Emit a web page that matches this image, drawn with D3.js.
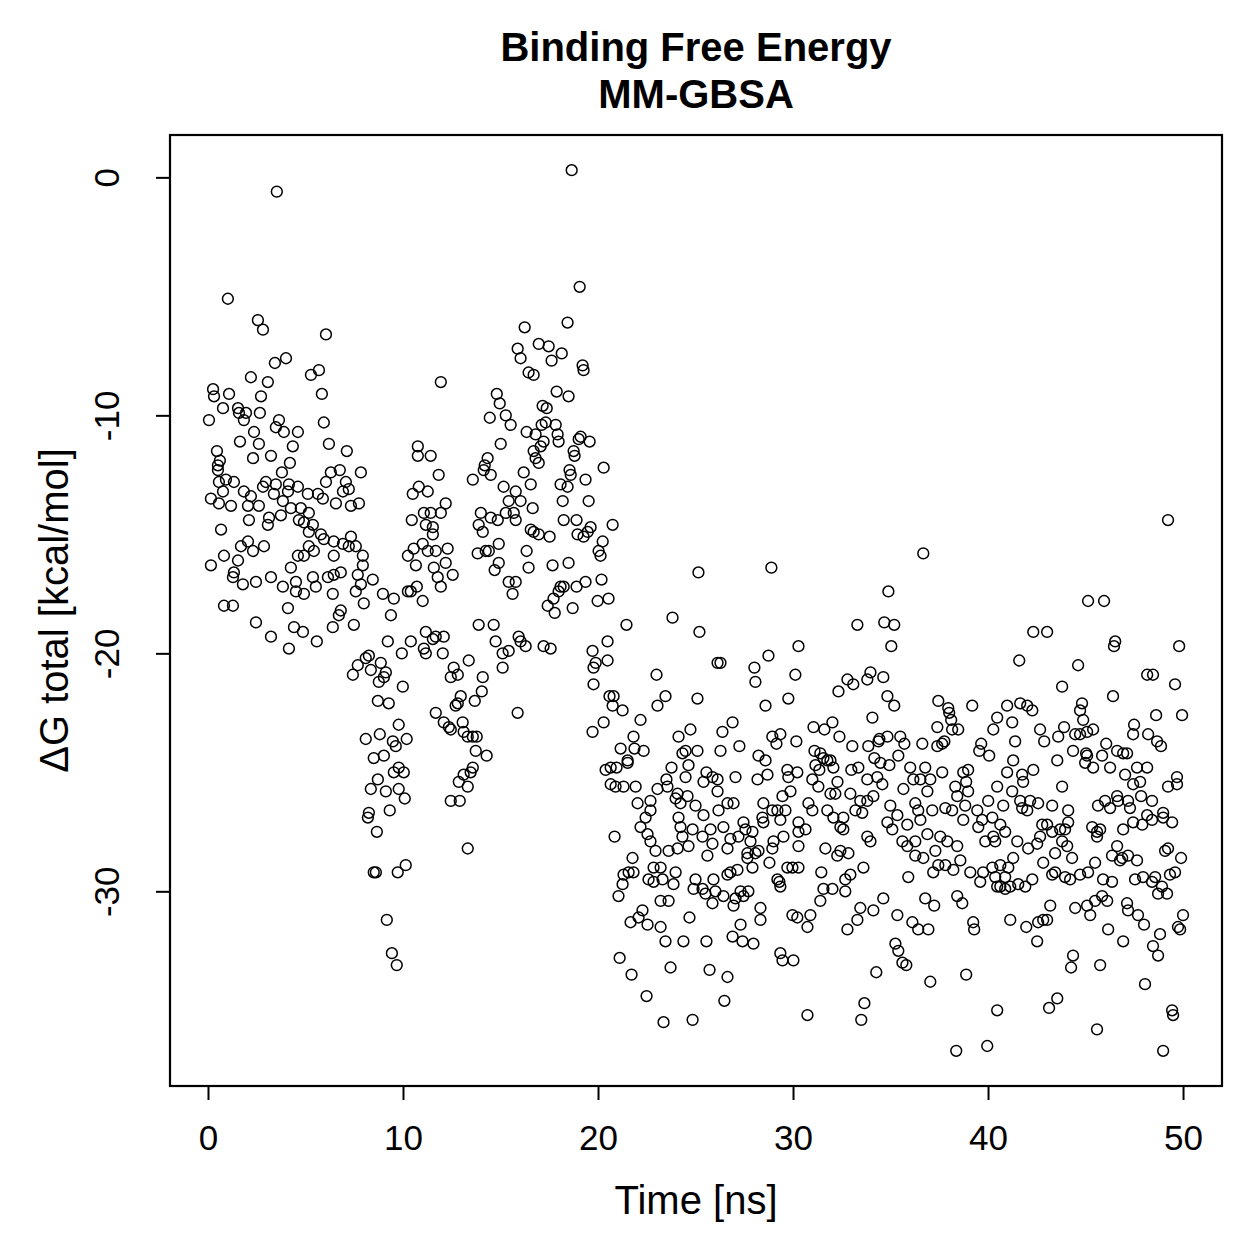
<!DOCTYPE html>
<html>
<head>
<meta charset="utf-8">
<script src="https://cdn.jsdelivr.net/npm/d3@7"></script>
<style>
  body { margin:0; background:#fff; }
  svg { display:block; font-family:"Liberation Sans", Arial, Helvetica, sans-serif; }
</style>
</head>
<body>
<svg width="1259" height="1259"></svg>
<script>
// frames: [time ns, dG kcal/mol]
// first part of the run (about 0-21 ns)
const early = [
[3.53,-0.6],[1.02,-5.1],[2.56,-6.0],[2.82,-6.4],[6.05,-6.6],[3.43,-7.8],[4.00,-7.6],[2.20,-8.4],[3.07,-8.6],[5.28,-8.3],[5.69,-8.1],[5.84,-9.1],[0.26,-8.9],[0.31,-9.2],[1.08,-9.1],[0.77,-9.7],[1.54,-9.7],[1.59,-9.9],[1.95,-9.9],[1.84,-10.2],[2.72,-9.2],[2.66,-9.9],[0.05,-10.2],[3.64,-10.2],[3.48,-10.5],[3.89,-10.7],[4.61,-10.7],[5.94,-10.3],[2.36,-10.7],[1.64,-11.1],[2.61,-11.2],[6.20,-11.2],[7.12,-11.5],[4.35,-11.3],[3.23,-11.7],[2.31,-11.8],[4.20,-12.0],[0.46,-11.5],[0.61,-11.9],[0.51,-12.1],[3.79,-12.4],[6.30,-12.4],[6.76,-12.3],[7.84,-12.4],
[0.51,-12.3],[0.56,-12.8],[0.92,-12.7],[1.33,-12.8],[0.77,-13.2],[0.15,-13.5],[0.56,-13.7],[1.18,-13.8],[1.84,-13.2],[2.20,-13.4],[2.05,-13.8],[2.61,-13.8],[2.97,-12.8],[2.82,-13.0],[3.48,-12.9],[4.10,-13.2],[4.15,-12.9],[4.61,-13.0],[3.84,-13.6],[3.38,-13.3],[5.12,-13.3],[5.64,-13.3],[6.05,-12.8],[5.89,-13.5],[4.25,-13.9],[4.76,-13.9],[5.17,-14.1],[4.66,-14.4],[4.92,-14.5],[5.38,-14.6],[5.17,-14.9],[5.79,-15.0],[5.94,-15.2],[3.13,-14.3],[3.07,-14.6],[2.10,-14.4],[3.74,-14.2],[0.67,-14.8],[1.69,-15.5],[2.05,-15.3],[2.31,-15.7],[2.87,-15.5],[5.17,-15.5],[5.43,-15.7],[4.61,-15.9],[4.92,-15.9],[0.82,-15.9],[1.54,-16.1],[0.15,-16.3],[4.25,-16.4],[1.33,-16.6],[1.28,-16.8],[1.79,-17.1],[2.46,-17.0],[3.23,-16.8],[3.84,-17.2],[4.51,-17.0],[4.51,-17.4],[4.92,-17.5],[5.38,-16.8],[5.53,-17.2],[6.15,-16.8],[4.10,-18.1],[0.82,-18.0],[1.28,-18.0],[2.46,-18.7],[3.23,-19.3],[4.15,-19.8],[4.41,-18.9],[4.87,-19.1],[5.58,-19.5],
[7.07,-12.8],[7.22,-13.1],[6.92,-13.2],[6.56,-13.7],[7.33,-13.8],[7.74,-13.7],[10.76,-11.3],[10.76,-11.7],[10.81,-13.0],[10.50,-13.3],[10.45,-14.4],[6.45,-15.3],[6.92,-15.4],[7.33,-15.1],[7.22,-15.5],[7.58,-15.5],[6.45,-15.9],[6.81,-16.6],[7.94,-15.9],[7.94,-16.3],[7.68,-16.7],[6.45,-16.7],[8.45,-16.9],[7.84,-17.1],[7.58,-17.4],[6.40,-17.5],[7.99,-17.9],[8.97,-17.5],[9.53,-17.7],[10.25,-17.4],[10.40,-17.4],[10.71,-17.2],[10.25,-15.9],[10.55,-15.6],[10.66,-16.3],[9.38,-18.4],[6.81,-18.2],[6.71,-18.4],[6.40,-18.9],[7.48,-18.8],
[9.22,-19.5],[10.40,-19.5],[9.94,-20.0],[8.25,-20.1],[8.09,-20.2],[7.68,-20.5],[8.86,-20.4],[7.43,-20.9],[8.35,-20.7],[9.12,-20.8],[9.02,-21.0],[8.76,-21.2],[9.99,-21.4],[8.71,-22.0],[9.27,-22.1],[9.78,-23.0],[8.81,-23.4],[8.09,-23.6],[9.48,-23.7],[9.63,-23.9],[10.19,-23.6],[8.50,-24.4],[9.02,-24.3],[9.78,-24.8],[9.53,-25.0],[10.04,-25.0],[8.71,-25.3],[8.35,-25.7],[9.12,-25.8],[9.78,-25.7],[10.09,-26.1],[9.32,-26.6],[8.25,-26.7],[8.20,-26.9],[8.66,-27.5],[8.50,-29.2],[8.61,-29.2],[9.73,-29.2],[10.14,-28.9],[9.17,-31.2],[9.43,-32.6],[9.68,-33.1],
[14.04,-21.6],[13.68,-22.0],[12.96,-21.8],[12.81,-22.1],[12.70,-22.2],[11.68,-22.5],[12.09,-22.9],[12.35,-23.1],[13.06,-22.9],[13.11,-23.3],[13.32,-23.5],[13.58,-23.5],[13.78,-23.5],[13.73,-24.1],[14.29,-24.3],[12.45,-23.2],[12.86,-25.4],[13.11,-25.1],[13.47,-25.0],[13.58,-24.8],[13.32,-25.6],[12.91,-26.2],[12.45,-26.2],[13.32,-28.2],
[19.06,-4.6],[18.44,-6.1],[16.24,-6.3],[15.88,-7.2],[16.03,-7.6],[16.96,-7.0],[17.47,-7.1],[18.14,-7.4],[17.62,-7.7],[19.21,-7.9],[19.26,-8.1],[16.44,-8.2],[16.70,-8.3],[11.94,-8.6],[14.81,-9.1],[14.96,-9.5],[14.45,-10.1],[15.27,-10.0],[15.52,-10.4],[17.88,-9.0],[18.49,-9.2],[17.16,-9.6],[17.37,-9.7],[17.32,-10.3],[17.11,-10.4],[17.83,-10.4],[16.34,-10.7],[16.80,-10.8],[17.93,-10.8],[17.98,-11.1],[19.11,-10.9],[19.01,-11.0],[19.57,-11.1],[15.01,-11.2],[17.21,-11.1],[17.06,-11.3],[16.70,-11.5],[18.75,-11.5],[18.80,-11.7],[16.80,-11.8],[16.96,-12.0],[14.34,-11.8],[14.19,-12.1],[11.42,-11.7],[11.83,-12.5],[13.58,-12.7],[14.50,-12.5],[16.19,-12.4],[18.54,-12.3],[20.29,-12.2],[19.36,-12.7],[18.65,0.3],
[14.14,-12.3],[16.55,-12.9],[15.16,-13.0],[15.78,-13.2],[15.42,-13.6],[16.03,-13.6],[16.65,-13.9],[13.99,-14.1],[14.50,-14.3],[14.86,-14.4],[15.27,-14.1],[15.68,-14.1],[15.78,-14.4],[13.88,-14.6],[14.09,-14.9],[16.55,-14.8],[16.70,-14.9],[16.96,-15.0],[17.52,-15.1],[11.27,-13.2],[12.19,-13.7],[11.94,-14.1],[11.07,-14.1],[11.42,-14.1],[11.17,-14.6],[11.53,-14.7],[11.53,-15.0],[11.01,-15.4],[11.27,-15.7],[11.68,-15.7],[12.29,-15.6],[12.19,-16.2],[11.58,-16.4],[11.78,-16.8],[12.55,-16.7],[11.94,-17.2],[11.01,-17.8],[13.83,-15.8],[14.24,-15.7],[14.40,-15.7],[14.91,-15.4],[16.34,-15.7],[14.91,-16.2],[14.70,-16.5],[16.44,-16.4],[15.42,-17.0],[15.78,-17.0],[15.62,-17.5],[18.08,-12.9],[18.44,-13.0],[18.60,-12.5],[19.52,-13.6],[18.19,-13.6],[18.24,-14.4],[18.90,-14.4],[20.75,-14.6],[18.95,-15.0],[19.26,-15.1],[19.62,-14.7],[19.47,-14.9],[20.24,-15.3],[20.03,-15.7],[20.13,-15.9],[18.49,-16.2],[17.67,-16.3],[18.08,-17.2],[17.98,-17.4],[18.24,-17.2],[18.90,-17.2],[19.36,-17.0],[20.18,-16.9],[20.54,-17.7],[19.98,-17.8],[18.70,-18.1],[17.72,-17.7],[17.42,-18.0],[17.78,-18.3],[21.46,-18.8],[13.88,-18.8],[14.65,-18.8],[14.75,-19.5],[11.17,-19.1],[11.68,-19.3],[12.09,-19.3],[11.53,-19.4],[11.07,-19.8],[11.17,-20.0],[12.04,-20.0],[12.60,-20.6],[12.45,-21.0],[12.81,-20.9],[13.37,-20.3],[14.09,-21.0],[15.11,-20.0],[15.42,-19.9],[15.11,-20.6],[16.03,-19.5],[16.29,-19.7],[15.93,-19.3],[17.21,-19.7],[17.57,-19.8],[19.72,-19.9],[20.49,-19.5],[20.49,-20.3],[19.88,-20.4],[19.77,-20.6],[19.77,-21.3],[15.88,-22.5]
];

// rest of the run (about 20-50 ns)
const late = [
[25.15,-16.6],[28.89,-16.4],[23.82,-18.5],[25.20,-19.1],[23.00,-20.9],[26.13,-20.4],[26.28,-20.4],[28.02,-20.6],[28.07,-21.2],[28.74,-20.1],[30.12,-20.9],[30.28,-19.7],[20.59,-21.8],[20.80,-21.8],[20.75,-22.2],[21.26,-22.4],[23.46,-21.8],[23.05,-22.2],[25.10,-21.9],[28.59,-22.2],[29.76,-21.9],[20.29,-22.9],[19.72,-23.3],[22.18,-22.8],[21.82,-23.5],[21.16,-24.0],[21.87,-24.0],[22.34,-24.1],[21.52,-24.5],[21.52,-24.6],[24.13,-23.5],[24.74,-23.2],[24.49,-24.1],[24.33,-24.2],[25.10,-24.1],[24.64,-24.7],[26.28,-24.1],[26.38,-23.3],[26.90,-22.9],[27.25,-23.9],[28.23,-24.3],[28.59,-24.5],[28.94,-23.5],[29.15,-23.8],[29.35,-23.4],[30.17,-23.7],[23.77,-24.8],[24.49,-25.2],[25.56,-25.0],[25.87,-25.2],[26.13,-25.3],[25.41,-25.4],[27.05,-25.2],[28.18,-25.3],[28.69,-25.1],[29.71,-24.9],[29.76,-25.2],[30.22,-25.0],[20.39,-24.9],[20.65,-24.8],[20.95,-24.8],[20.65,-25.5],[20.90,-25.6],[21.31,-25.6],[21.93,-25.6],[23.05,-25.7],[23.51,-25.3],[23.56,-25.6],[24.08,-25.9],[24.59,-26.0],[29.46,-26.0],[29.87,-25.8],
[26.13,-25.8],[22.69,-26.2],[22.03,-26.3],[22.69,-26.6],[22.44,-26.9],[23.98,-26.1],[24.23,-26.3],[25.00,-26.4],[26.64,-26.3],[26.95,-26.3],[26.18,-26.6],[25.41,-26.8],[24.13,-26.9],[22.18,-27.3],[22.54,-27.6],[24.23,-27.3],[24.85,-27.4],[25.77,-27.4],[26.43,-27.3],[25.36,-27.7],[24.33,-27.7],[22.69,-27.9],[22.95,-28.3],[23.62,-28.3],[24.08,-28.2],[24.64,-28.1],[25.87,-28.0],[26.64,-28.2],[26.79,-27.8],[27.20,-27.7],[27.46,-27.1],[27.56,-27.4],[27.92,-27.5],[27.82,-27.9],[28.48,-26.3],[28.43,-26.9],[28.48,-27.1],[28.94,-26.6],[29.20,-26.6],[29.35,-27.0],[29.61,-26.6],[30.28,-27.1],[29.51,-27.7],[29.00,-27.9],[28.94,-28.2],[30.28,-28.1],[28.23,-28.3],[28.07,-28.4],[27.66,-28.4],[27.66,-28.6],[27.92,-29.0],[28.79,-28.8],[25.61,-28.5],[20.85,-27.7],[21.77,-28.6],[21.57,-29.2],[21.31,-29.3],[21.26,-29.7],[21.05,-30.2],[21.82,-29.2],[22.85,-29.0],[23.21,-29.0],[23.98,-29.2],[23.87,-29.7],[22.59,-29.5],[22.85,-29.6],[23.31,-29.5],[25.00,-29.5],[24.90,-29.9],[25.36,-29.9],[25.51,-30.1],[25.92,-29.5],[26.02,-30.0],[26.43,-30.2],[25.87,-30.5],[26.64,-29.3],[26.79,-29.2],[27.15,-29.1],[27.05,-30.3],[27.31,-30.0],[27.71,-30.0],[27.46,-30.2],[26.95,-30.6],[29.30,-29.6],[29.35,-29.8],[29.20,-29.5],[29.71,-29.0],[29.97,-29.0],[30.28,-29.0],[28.33,-30.7],[28.33,-31.2],[29.97,-31.0],[30.22,-31.1],[23.21,-30.4],[23.62,-30.4],[22.28,-30.8],[22.08,-31.1],[21.67,-31.3],[22.54,-31.4],[23.21,-31.5],[23.46,-32.1],[24.38,-32.1],[24.69,-31.1],[25.56,-32.1],[26.90,-31.9],[27.31,-31.4],[27.41,-32.1],[27.97,-32.2],[29.35,-32.6],[29.46,-32.9],[30.02,-32.9],[21.11,-32.8],[21.72,-33.5],[23.72,-33.2],[25.72,-33.3],[26.64,-33.6],[22.49,-34.4],[26.48,-34.6],[23.36,-35.5],[24.85,-35.4],
[36.68,-15.8],[34.89,-17.4],[33.30,-18.8],[34.68,-18.7],[35.19,-18.8],[35.04,-19.7],[32.79,-21.1],[33.09,-21.3],[33.81,-21.1],[33.97,-20.8],[34.63,-21.0],[32.33,-21.6],[34.84,-21.8],[35.19,-22.2],[34.07,-22.7],[37.45,-22.0],[37.96,-22.3],[38.01,-22.5],[39.19,-22.2],[31.05,-23.1],[31.61,-23.2],[32.02,-22.9],[32.38,-23.5],[33.04,-23.9],[33.86,-23.9],[34.38,-23.7],[34.43,-23.6],[34.84,-23.5],[35.50,-23.5],[35.71,-23.8],[36.63,-23.8],[37.40,-23.1],[38.11,-22.8],[38.16,-23.2],[38.47,-23.2],[37.40,-23.9],[37.65,-23.8],[37.76,-23.7],[39.65,-23.8],[39.55,-24.1],[40.06,-24.3],[40.27,-23.2],[40.47,-22.7],[31.10,-24.1],[31.40,-24.2],[31.56,-24.4],[31.15,-24.7],[31.76,-24.5],[31.92,-24.5],[32.07,-24.8],[31.35,-24.9],[34.17,-24.4],[34.48,-24.6],[34.94,-24.7],[35.40,-24.3],[36.01,-24.8],[36.78,-24.8],[37.65,-25.0],[38.73,-25.0],[38.98,-24.9],[32.99,-24.9],[33.35,-24.8],[30.99,-25.3],[31.30,-25.6],[32.28,-25.4],[33.81,-25.3],[34.32,-25.2],[34.58,-25.5],[36.17,-25.3],[36.53,-25.3],[37.04,-25.3],[38.88,-25.4],[38.32,-25.6],[38.98,-25.8],[35.66,-25.7],[36.89,-25.8],[31.92,-25.9],[32.94,-25.9],[34.12,-26.0],[40.47,-25.6],
[32.17,-25.9],[33.45,-26.2],[33.81,-26.2],[30.79,-26.3],[30.99,-26.6],[31.76,-26.6],[32.07,-26.9],[32.58,-26.9],[33.20,-26.6],[33.55,-26.7],[32.43,-27.3],[32.58,-27.4],[30.28,-27.5],[30.64,-27.4],[31.66,-28.2],[32.27,-28.5],[32.43,-28.3],[32.84,-28.4],[33.81,-27.7],[33.97,-27.9],[34.99,-26.4],[35.35,-26.8],[34.84,-27.1],[35.09,-27.4],[35.86,-27.2],[36.27,-26.3],[36.42,-26.6],[36.53,-27.0],[37.14,-26.6],[35.61,-27.9],[35.86,-28.1],[36.27,-27.9],[36.27,-28.5],[36.89,-27.6],[36.68,-28.6],[37.30,-28.3],[37.55,-27.7],[37.91,-27.9],[37.81,-26.5],[38.16,-26.6],[38.42,-26.0],[38.42,-28.1],[38.83,-26.4],[38.73,-27.0],[39.45,-26.6],[39.70,-27.0],[40.01,-26.2],[39.50,-27.3],[39.86,-27.9],[40.27,-27.7],[37.19,-29.2],[37.45,-28.9],[37.81,-28.9],[38.22,-29.1],[38.58,-28.7],[39.09,-29.2],[39.75,-29.2],[40.22,-29.0],[39.60,-29.6],[40.47,-29.8],[31.45,-29.2],[33.61,-29.0],[32.94,-29.3],[32.68,-29.5],[31.56,-29.9],[32.02,-29.9],[32.68,-30.0],[31.40,-30.4],[35.91,-29.4],[34.63,-30.3],[33.45,-30.7],[34.12,-30.8],[33.30,-31.2],[32.79,-31.6],[35.35,-31.0],[36.12,-31.3],[36.42,-31.6],[36.94,-31.6],[36.78,-30.3],[37.24,-30.6],[38.42,-30.2],[38.68,-30.5],[39.24,-31.3],[39.29,-31.6],[30.89,-31.0],[30.74,-31.5],[35.25,-32.2],[35.40,-32.5],[35.61,-33.0],[35.81,-33.1],[34.27,-33.4],[37.04,-33.8],[38.88,-33.5],[33.66,-34.7],[33.50,-35.4],[30.74,-35.2],[40.47,-35.0],[38.37,-36.7],[39.96,-36.5],
[49.23,-14.4],[45.13,-17.8],[45.95,-17.8],[42.32,-19.1],[43.03,-19.1],[46.52,-19.5],[46.46,-19.7],[49.80,-19.7],[41.60,-20.3],[44.62,-20.5],[48.16,-20.9],[48.46,-20.9],[49.59,-21.3],[43.80,-21.4],[46.41,-21.8],[41.65,-22.1],[42.01,-22.2],[42.27,-22.4],[40.98,-22.2],[41.24,-22.9],[41.39,-23.7],[42.67,-23.2],[42.88,-23.7],[43.60,-23.5],[43.90,-23.1],[44.47,-23.4],[44.72,-23.4],[45.08,-23.3],[45.39,-23.2],[44.82,-22.1],[44.72,-22.4],[44.88,-22.8],[47.49,-23.0],[47.44,-23.4],[48.21,-23.4],[48.67,-23.7],[48.87,-23.9],[48.62,-22.6],[49.95,-22.6],[46.06,-23.8],[46.62,-24.1],[46.93,-24.2],[47.13,-24.2],[44.36,-24.1],[45.03,-24.2],[45.08,-24.3],[44.98,-24.6],[45.85,-24.3],[45.39,-24.8],[46.26,-24.8],[47.03,-25.1],[47.64,-24.8],[48.16,-24.8],[47.80,-25.4],[47.44,-25.5],[49.69,-25.2],[49.69,-25.5],[49.23,-25.6],[41.29,-24.5],[40.98,-25.0],[41.75,-25.1],[42.32,-24.9],[41.80,-25.4],[43.55,-24.5],[43.80,-25.6],
[41.24,-25.8],[40.78,-26.4],[41.65,-26.2],[42.16,-26.2],[42.57,-26.3],[43.29,-26.4],[42.01,-26.6],[41.75,-26.5],[44.11,-26.6],[40.63,-27.2],[40.88,-27.5],[40.22,-26.9],[40.37,-27.9],[41.50,-27.9],[42.06,-28.2],[42.52,-28.0],[42.67,-27.7],[42.78,-27.2],[43.03,-27.2],[43.29,-27.5],[43.70,-27.4],[44.11,-27.1],[43.95,-27.4],[43.80,-27.9],[44.06,-28.1],[43.44,-28.4],[44.31,-28.6],[42.83,-28.8],[41.29,-28.6],[41.04,-29.0],[40.63,-28.9],[40.37,-29.4],[40.88,-29.4],[40.63,-29.8],[40.88,-29.9],[41.14,-29.8],[41.55,-29.7],[41.91,-29.8],[42.27,-29.5],[43.29,-29.3],[43.44,-29.2],[43.95,-29.4],[44.21,-29.5],[44.72,-29.3],[45.13,-29.2],[45.49,-28.8],[45.34,-27.3],[45.59,-27.5],[45.75,-27.4],[45.59,-27.7],[45.64,-26.4],[46.00,-26.2],[46.26,-26.5],[46.62,-26.0],[46.67,-26.2],[47.18,-26.2],[47.28,-26.5],[46.93,-27.4],[47.44,-27.1],[47.91,-27.2],[48.16,-26.8],[48.41,-26.2],[48.41,-27.0],[48.98,-26.7],[49.44,-27.1],[48.98,-26.9],[47.85,-26.0],[45.90,-29.5],[46.36,-29.6],[46.36,-28.5],[46.62,-28.1],[46.88,-28.6],[46.77,-28.7],[47.18,-28.5],[47.64,-28.7],[47.54,-29.5],[47.95,-29.4],[48.41,-29.6],[48.57,-29.4],[48.92,-29.8],[48.72,-30.1],[49.18,-30.1],[49.33,-29.3],[49.59,-29.2],[49.08,-28.3],[49.23,-28.2],[49.90,-28.6],[43.19,-30.6],[44.47,-30.7],[45.08,-30.6],[45.24,-31.0],[45.49,-30.4],[45.85,-30.2],[46.11,-30.4],[47.13,-30.5],[47.18,-30.8],[47.69,-31.0],[48.00,-31.4],[46.16,-31.6],[46.93,-32.1],[48.82,-31.8],[48.46,-32.3],[48.72,-32.7],[49.74,-31.5],[49.85,-31.6],[50.00,-31.0],[41.14,-31.2],[41.96,-31.5],[42.57,-31.3],[42.83,-31.2],[43.03,-31.2],[42.52,-32.1],[44.36,-32.7],[44.26,-33.2],[45.75,-33.1],[48.05,-33.9],[43.55,-34.5],[43.13,-34.9],[49.44,-35.0],[49.49,-35.2],[45.59,-35.8],[48.98,-36.7]
];

const xTicks = [0, 10, 20, 30, 40, 50];
const yTicks = [0, -10, -20, -30];
const titleLines = ['Binding Free Energy', 'MM-GBSA'];
const xLabel = 'Time [ns]';
const yLabel = 'ΔG total [kcal/mol]';

const frames = early.concat(late);

const svg = d3.select('svg');
const plotL = 170, plotR = 1222, plotT = 135, plotB = 1086;

// R style limits, 4% past the data on each side
function pad(ext){
  const d = (ext[1] - ext[0]) * 0.04;
  return [ext[0] - d, ext[1] + d];
}

const x = d3.scaleLinear().domain(pad(d3.extent(frames, d => d[0]))).range([plotL, plotR]);
const y = d3.scaleLinear().domain(pad(d3.extent(frames, d => d[1]))).range([plotB, plotT]);

// plain hyphen minus, as in R output
const fmt = d => String(d);

//точки
svg.append('g')
  .selectAll('circle')
  .data(frames)
  .join('circle')
  .attr('cx', d => x(d[0]))
  .attr('cy', d => y(d[1]))
  .attr('r', 5.4)
  .attr('fill', 'none')
  .attr('stroke', '#000')
  .attr('stroke-width', 1.5);

// box
svg.append('rect')
  .attr('x', plotL).attr('y', plotT)
  .attr('width', plotR - plotL).attr('height', plotB - plotT)
  .attr('fill', 'none').attr('stroke', '#000').attr('stroke-width', 2.2);

// x axis
const gx = svg.append('g')
  .attr('transform', `translate(0,${plotB})`)
  .call(d3.axisBottom(x).tickValues(xTicks).tickSize(14).tickFormat(fmt));
gx.select('.domain').remove();
gx.selectAll('line').attr('stroke-width', 2);
gx.selectAll('text')
  .attr('y', 64).attr('dy', 0)
  .attr('font-size', 35).attr('font-family', '"Liberation Sans", Arial, sans-serif').attr('fill', '#000');

// y axis, labels turned like R does
const gy = svg.append('g')
  .attr('transform', `translate(${plotL},0)`)
  .call(d3.axisLeft(y).tickValues(yTicks).tickSize(14).tickFormat(fmt));
gy.select('.domain').remove();
gy.selectAll('line').attr('stroke-width', 2);
gy.selectAll('text')
  .attr('transform', 'rotate(-90)')
  .attr('x', 0).attr('y', -51).attr('dy', 0)
  .attr('text-anchor', 'middle')
  .attr('font-size', 35).attr('font-family', '"Liberation Sans", Arial, sans-serif').attr('fill', '#000');

// titles
const cx = (plotL + plotR) / 2;
svg.append('g')
  .selectAll('text')
  .data(titleLines)
  .join('text')
  .attr('x', cx)
  .attr('y', (d, i) => 61 + i * 47)
  .attr('text-anchor', 'middle')
  .attr('font-size', 40)
  .attr('font-weight', 'bold')
  .text(d => d);

svg.append('text')
  .attr('x', cx).attr('y', 1214)
  .attr('text-anchor', 'middle')
  .attr('font-size', 40)
  .text(xLabel);

svg.append('text')
  .attr('transform', `translate(68,${(plotT + plotB) / 2}) rotate(-90)`)
  .attr('text-anchor', 'middle')
  .attr('font-size', 40)
  .text(yLabel);
</script>
</body>
</html>
